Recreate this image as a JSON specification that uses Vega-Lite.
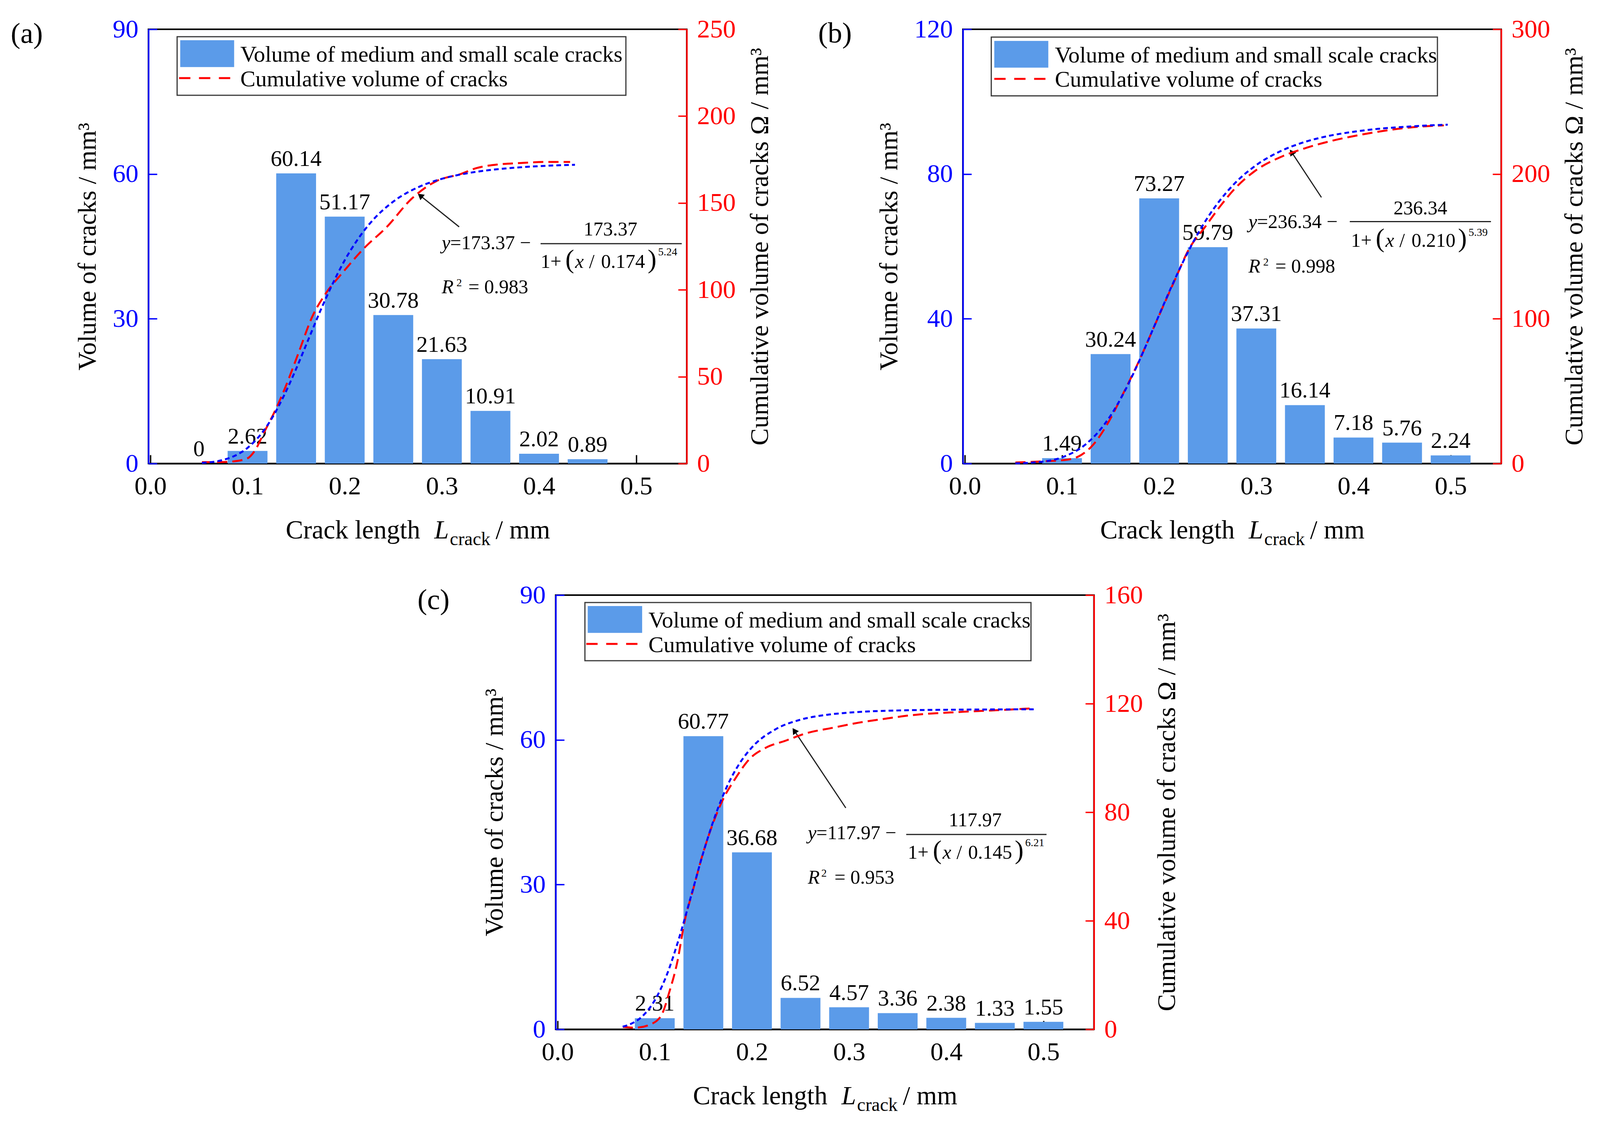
{
  "$schema": "https://vega.github.io/schema/vega-lite/v6.json",
  "background": "white",
  "padding": {"left": 25, "top": 40, "right": 0, "bottom": 0},
  "config": {
    "font": "Liberation Serif",
    "view": {"stroke": "#000000", "strokeWidth": 4},
    "axis": {
      "labelFontSize": 66, "titleFontSize": 66, "titleFontWeight": "normal",
      "labelColor": "#000000", "titleColor": "#000000", "domainColor": "#000000", "tickColor": "#000000",
      "tickSize": -22, "tickWidth": 3.5, "domainWidth": 4, "grid": false,
      "labelPadding": 48, "labelFlush": false, "labelOverlap": false, "zindex": 1
    }
  },
  "datasets": {
    "barsA": [
      {"x": 0.05, "y": 0, "t": "0"}, {"x": 0.1, "y": 2.62, "t": "2.62"}, {"x": 0.15, "y": 60.14, "t": "60.14"},
      {"x": 0.2, "y": 51.17, "t": "51.17"}, {"x": 0.25, "y": 30.78, "t": "30.78"}, {"x": 0.3, "y": 21.63, "t": "21.63"},
      {"x": 0.35, "y": 10.91, "t": "10.91"}, {"x": 0.4, "y": 2.02, "t": "2.02"}, {"x": 0.45, "y": 0.89, "t": "0.89"}
    ],
    "barsB": [
      {"x": 0.1, "y": 1.49, "t": "1.49"}, {"x": 0.15, "y": 30.24, "t": "30.24"}, {"x": 0.2, "y": 73.27, "t": "73.27"},
      {"x": 0.25, "y": 59.79, "t": "59.79"}, {"x": 0.3, "y": 37.31, "t": "37.31"}, {"x": 0.35, "y": 16.14, "t": "16.14"},
      {"x": 0.4, "y": 7.18, "t": "7.18"}, {"x": 0.45, "y": 5.76, "t": "5.76"}, {"x": 0.5, "y": 2.24, "t": "2.24"}
    ],
    "barsC": [
      {"x": 0.1, "y": 2.31, "t": "2.31"}, {"x": 0.15, "y": 60.77, "t": "60.77"}, {"x": 0.2, "y": 36.68, "t": "36.68"},
      {"x": 0.25, "y": 6.52, "t": "6.52"}, {"x": 0.3, "y": 4.57, "t": "4.57"}, {"x": 0.35, "y": 3.36, "t": "3.36"},
      {"x": 0.4, "y": 2.38, "t": "2.38"}, {"x": 0.45, "y": 1.33, "t": "1.33"}, {"x": 0.5, "y": 1.55, "t": "1.55"}
    ],
    "cumA": [
      {"x": 0.053, "y": 0.8}, {"x": 0.07, "y": 0.8}, {"x": 0.085, "y": 1.2}, {"x": 0.1, "y": 3}, {"x": 0.107, "y": 7},
      {"x": 0.118, "y": 19}, {"x": 0.128, "y": 30}, {"x": 0.139, "y": 44}, {"x": 0.152, "y": 63}, {"x": 0.167, "y": 85},
      {"x": 0.18, "y": 97.5}, {"x": 0.198, "y": 110}, {"x": 0.22, "y": 124}, {"x": 0.243, "y": 136}, {"x": 0.269, "y": 152.5},
      {"x": 0.294, "y": 162.5}, {"x": 0.32, "y": 166.8}, {"x": 0.335, "y": 170}, {"x": 0.355, "y": 172}, {"x": 0.381, "y": 173},
      {"x": 0.406, "y": 173.6}, {"x": 0.432, "y": 173.6}
    ],
    "fitA": [
      {"x": 0.053, "y": 0.34}, {"x": 0.075, "y": 2.1}, {"x": 0.0875, "y": 4.6}, {"x": 0.1, "y": 9.0}, {"x": 0.1125, "y": 16.0},
      {"x": 0.125, "y": 26.0}, {"x": 0.1375, "y": 39.1}, {"x": 0.15, "y": 54.5}, {"x": 0.1625, "y": 71.3}, {"x": 0.175, "y": 88.0},
      {"x": 0.1875, "y": 103.4}, {"x": 0.2, "y": 117.0}, {"x": 0.2125, "y": 128.3}, {"x": 0.225, "y": 137.6}, {"x": 0.25, "y": 150.8},
      {"x": 0.275, "y": 158.9}, {"x": 0.3, "y": 163.9}, {"x": 0.325, "y": 167.0}, {"x": 0.35, "y": 169.0}, {"x": 0.375, "y": 170.3},
      {"x": 0.4, "y": 171.2}, {"x": 0.425, "y": 171.8}, {"x": 0.437, "y": 172.0}
    ],
    "cumB": [
      {"x": 0.052, "y": 0.7}, {"x": 0.08, "y": 1.5}, {"x": 0.106, "y": 2.7}, {"x": 0.119, "y": 5.6}, {"x": 0.132, "y": 12.9},
      {"x": 0.148, "y": 28.8}, {"x": 0.163, "y": 48.4}, {"x": 0.179, "y": 70.4}, {"x": 0.195, "y": 94.8}, {"x": 0.216, "y": 126.6},
      {"x": 0.231, "y": 148.5}, {"x": 0.247, "y": 163.2}, {"x": 0.263, "y": 177.9}, {"x": 0.278, "y": 190}, {"x": 0.299, "y": 202.3},
      {"x": 0.326, "y": 212}, {"x": 0.352, "y": 218.2}, {"x": 0.378, "y": 223}, {"x": 0.404, "y": 226.7}, {"x": 0.43, "y": 229.7},
      {"x": 0.457, "y": 232.1}, {"x": 0.493, "y": 233.6}
    ],
    "fitB": [
      {"x": 0.052, "y": 0.13}, {"x": 0.075, "y": 0.92}, {"x": 0.1, "y": 4.25}, {"x": 0.125, "y": 13.6}, {"x": 0.1375, "y": 21.9},
      {"x": 0.15, "y": 33.1}, {"x": 0.1625, "y": 47.4}, {"x": 0.175, "y": 64.3}, {"x": 0.1875, "y": 83.2}, {"x": 0.2, "y": 102.7},
      {"x": 0.2125, "y": 121.9}, {"x": 0.225, "y": 139.9}, {"x": 0.2375, "y": 156.0}, {"x": 0.25, "y": 170.0}, {"x": 0.275, "y": 191.6},
      {"x": 0.3, "y": 206.2}, {"x": 0.325, "y": 215.8}, {"x": 0.35, "y": 222.2}, {"x": 0.375, "y": 226.4}, {"x": 0.4, "y": 229.2},
      {"x": 0.425, "y": 231.2}, {"x": 0.45, "y": 232.5}, {"x": 0.475, "y": 233.5}, {"x": 0.497, "y": 234.1}
    ],
    "cumC": [
      {"x": 0.067, "y": 0.9}, {"x": 0.08, "y": 0.6}, {"x": 0.096, "y": 1.9}, {"x": 0.107, "y": 5.3}, {"x": 0.115, "y": 13.8},
      {"x": 0.123, "y": 24.5}, {"x": 0.131, "y": 40.3}, {"x": 0.139, "y": 50.9}, {"x": 0.149, "y": 64.1}, {"x": 0.16, "y": 76},
      {"x": 0.171, "y": 85.3}, {"x": 0.182, "y": 91.9}, {"x": 0.198, "y": 99.8}, {"x": 0.214, "y": 103.7}, {"x": 0.235, "y": 106.4},
      {"x": 0.256, "y": 109.1}, {"x": 0.283, "y": 111.1}, {"x": 0.31, "y": 113}, {"x": 0.336, "y": 114.4}, {"x": 0.363, "y": 115.7},
      {"x": 0.417, "y": 117}, {"x": 0.47, "y": 117.9}, {"x": 0.489, "y": 118.3}
    ],
    "fitC": [
      {"x": 0.067, "y": 0.97}, {"x": 0.075, "y": 1.93}, {"x": 0.0875, "y": 4.9}, {"x": 0.1, "y": 10.7}, {"x": 0.1125, "y": 20.2},
      {"x": 0.125, "y": 33.6}, {"x": 0.1375, "y": 49.3}, {"x": 0.15, "y": 65.2}, {"x": 0.1625, "y": 79.0}, {"x": 0.175, "y": 90.0},
      {"x": 0.1875, "y": 98.1}, {"x": 0.2, "y": 103.9}, {"x": 0.225, "y": 110.7}, {"x": 0.25, "y": 114.1}, {"x": 0.275, "y": 115.8},
      {"x": 0.3, "y": 116.7}, {"x": 0.35, "y": 117.5}, {"x": 0.4, "y": 117.75}, {"x": 0.45, "y": 117.87}, {"x": 0.49, "y": 117.92}
    ],
    "annA": [
      {"kind": "panel", "x": -0.1437, "y": 87.2, "t": "(a)"},
      {"kind": "box", "x": 0.0275, "x2": 0.4894, "y": 88.47, "y2": 76.33},
      {"kind": "swatch", "x": 0.0307, "x2": 0.0862, "y": 87.74, "y2": 82.16},
      {"kind": "dash", "x": 0.0295, "x2": 0.083, "y": 79.89, "y2": 79.89},
      {"kind": "leg", "x": 0.0926, "y": 83.29, "t": "Volume of medium and small scale cracks"},
      {"kind": "leg", "x": 0.0926, "y": 78.19, "t": "Cumulative volume of cracks"},
      {"kind": "eqi", "x": 0.2998, "y": 44.44, "t": "y"},
      {"kind": "eq", "x": 0.3086, "y": 44.44, "t": "=173.37 −"},
      {"kind": "eqc", "x": 0.4735, "y": 47.27, "t": "173.37"},
      {"kind": "line", "x": 0.4016, "x2": 0.5469, "y": 45.57, "y2": 45.57},
      {"kind": "eq", "x": 0.4016, "y": 40.55, "t": "1+"},
      {"kind": "par", "x": 0.4271, "y": 40.55, "t": "("},
      {"kind": "eqi", "x": 0.4371, "y": 40.55, "t": "x"},
      {"kind": "eq", "x": 0.4515, "y": 40.55, "t": "/"},
      {"kind": "eq", "x": 0.4639, "y": 40.55, "t": "0.174"},
      {"kind": "par", "x": 0.5118, "y": 40.55, "t": ")"},
      {"kind": "sup", "x": 0.5226, "y": 43.14, "t": "5.24"},
      {"kind": "eqi", "x": 0.2998, "y": 35.29, "t": "R"},
      {"kind": "sup", "x": 0.315, "y": 36.75, "t": "2"},
      {"kind": "eq", "x": 0.3273, "y": 35.29, "t": "= 0.983"},
      {"kind": "line", "x": 0.3178, "x2": 0.2777, "y": 49.05, "y2": 55.53},
      {"kind": "head", "x": 0.2777, "y": 55.53},
      {"kind": "xt", "x": 0.1393, "y": -15.54, "t": "Crack length"},
      {"kind": "xti", "x": 0.2922, "y": -15.54, "t": "L"},
      {"kind": "xts", "x": 0.3082, "y": -16.92, "t": "crack"},
      {"kind": "xt", "x": 0.3553, "y": -15.54, "t": "/ mm"}
    ],
    "annB": [
      {"kind": "panel", "x": -0.151, "y": 116.3, "t": "(b)"},
      {"kind": "box", "x": 0.0272, "x2": 0.4864, "y": 117.85, "y2": 101.6},
      {"kind": "swatch", "x": 0.0303, "x2": 0.0859, "y": 116.8, "y2": 109.4},
      {"kind": "dash", "x": 0.0303, "x2": 0.0839, "y": 106.3, "y2": 106.3},
      {"kind": "leg", "x": 0.0927, "y": 110.8, "t": "Volume of medium and small scale cracks"},
      {"kind": "leg", "x": 0.0927, "y": 104.1, "t": "Cumulative volume of cracks"},
      {"kind": "eqi", "x": 0.2919, "y": 65.11, "t": "y"},
      {"kind": "eq", "x": 0.3007, "y": 65.11, "t": "=236.34 −"},
      {"kind": "eqc", "x": 0.4689, "y": 68.89, "t": "236.34"},
      {"kind": "line", "x": 0.3962, "x2": 0.5415, "y": 66.85, "y2": 66.85},
      {"kind": "eq", "x": 0.3974, "y": 59.94, "t": "1+"},
      {"kind": "par", "x": 0.4229, "y": 59.94, "t": "("},
      {"kind": "eqi", "x": 0.4329, "y": 59.94, "t": "x"},
      {"kind": "eq", "x": 0.4473, "y": 59.94, "t": "/"},
      {"kind": "eq", "x": 0.4597, "y": 59.94, "t": "0.210"},
      {"kind": "par", "x": 0.5076, "y": 59.94, "t": ")"},
      {"kind": "sup", "x": 0.5184, "y": 62.91, "t": "5.39"},
      {"kind": "eqi", "x": 0.2919, "y": 52.82, "t": "R"},
      {"kind": "sup", "x": 0.3071, "y": 54.76, "t": "2"},
      {"kind": "eq", "x": 0.3195, "y": 52.82, "t": "= 0.998"},
      {"kind": "line", "x": 0.367, "x2": 0.3363, "y": 73.54, "y2": 86.04},
      {"kind": "head", "x": 0.3363, "y": 86.04},
      {"kind": "xt", "x": 0.1393, "y": -20.72, "t": "Crack length"},
      {"kind": "xti", "x": 0.2922, "y": -20.72, "t": "L"},
      {"kind": "xts", "x": 0.3082, "y": -22.55, "t": "crack"},
      {"kind": "xt", "x": 0.3553, "y": -20.72, "t": "/ mm"}
    ],
    "annC": [
      {"kind": "panel", "x": -0.1442, "y": 87.1, "t": "(c)"},
      {"kind": "box", "x": 0.0281, "x2": 0.4872, "y": 88.46, "y2": 76.4},
      {"kind": "swatch", "x": 0.031, "x2": 0.087, "y": 87.74, "y2": 82.16},
      {"kind": "dash", "x": 0.0295, "x2": 0.085, "y": 79.89, "y2": 79.89},
      {"kind": "leg", "x": 0.0935, "y": 83.29, "t": "Volume of medium and small scale cracks"},
      {"kind": "leg", "x": 0.0935, "y": 78.19, "t": "Cumulative volume of cracks"},
      {"kind": "eqi", "x": 0.2575, "y": 39.41, "t": "y"},
      {"kind": "eq", "x": 0.2663, "y": 39.41, "t": "=117.97 −"},
      {"kind": "eqc", "x": 0.4298, "y": 42.08, "t": "117.97"},
      {"kind": "line", "x": 0.3588, "x2": 0.5032, "y": 40.38, "y2": 40.38},
      {"kind": "eq", "x": 0.3604, "y": 35.33, "t": "1+"},
      {"kind": "par", "x": 0.3862, "y": 35.33, "t": "("},
      {"kind": "eqi", "x": 0.3962, "y": 35.33, "t": "x"},
      {"kind": "eq", "x": 0.4106, "y": 35.33, "t": "/"},
      {"kind": "eq", "x": 0.4226, "y": 35.33, "t": "0.145"},
      {"kind": "par", "x": 0.4705, "y": 35.33, "t": ")"},
      {"kind": "sup", "x": 0.4813, "y": 37.96, "t": "6.21"},
      {"kind": "eqi", "x": 0.2575, "y": 30.19, "t": "R"},
      {"kind": "sup", "x": 0.2714, "y": 31.64, "t": "2"},
      {"kind": "eq", "x": 0.285, "y": 30.19, "t": "= 0.953"},
      {"kind": "line", "x": 0.2966, "x2": 0.2436, "y": 45.89, "y2": 61.91},
      {"kind": "head", "x": 0.2436, "y": 61.91},
      {"kind": "xt", "x": 0.1393, "y": -15.54, "t": "Crack length"},
      {"kind": "xti", "x": 0.2922, "y": -15.54, "t": "L"},
      {"kind": "xts", "x": 0.3082, "y": -16.92, "t": "crack"},
      {"kind": "xt", "x": 0.3553, "y": -15.54, "t": "/ mm"}
    ]
  },
  "vconcat": [
    {
      "hconcat": [
        {
          "width": 1378, "height": 1112,
          "encoding": {
            "x": {"field": "x", "type": "quantitative", "scale": {"domain": [0, 0.55], "nice": false, "zero": false},
                  "axis": {"values": [0, 0.1, 0.2, 0.3, 0.4, 0.5], "format": ".1f", "title": null}}
          },
          "layer": [
            {
              "encoding": {
                "y": {"field": "y", "type": "quantitative", "scale": {"domain": [0, 90], "nice": false},
                      "axis": {"values": [0, 30, 60, 90], "title": "Volume of cracks / mm³", "domainColor": "#0000FF", "tickColor": "#0000FF", "labelColor": "#0000FF", "titlePadding": 30}}
              },
              "layer": [
                {"data": {"name": "barsA"}, "mark": {"type": "bar", "width": 102, "color": "#5B9BE9"}},
                {"data": {"name": "barsA"}, "mark": {"type": "text", "dy": -19, "baseline": "alphabetic", "fontSize": 58}, "encoding": {"text": {"field": "t"}}},
                {"data": {"name": "annA"}, "transform": [{"filter": "datum.kind === 'box'"}], "mark": {"type": "rect", "fill": "#ffffff", "fillOpacity": 0, "stroke": "#3a3a3a", "strokeWidth": 3}, "encoding": {"x2": {"field": "x2"}, "y2": {"field": "y2"}}},
                {"data": {"name": "annA"}, "transform": [{"filter": "datum.kind === 'swatch'"}], "mark": {"type": "rect", "fill": "#5B9BE9"}, "encoding": {"x2": {"field": "x2"}, "y2": {"field": "y2"}}},
                {"data": {"name": "annA"}, "transform": [{"filter": "datum.kind === 'dash'"}], "mark": {"type": "rule", "color": "#FF0000", "strokeWidth": 5, "strokeDash": [29, 22]}, "encoding": {"x2": {"field": "x2"}}},
                {"data": {"name": "annA"}, "transform": [{"filter": "datum.kind === 'leg'"}], "mark": {"type": "text", "align": "left", "baseline": "alphabetic", "fontSize": 58}, "encoding": {"text": {"field": "t"}}},
                {"data": {"name": "annA"}, "transform": [{"filter": "datum.kind === 'eq'"}], "mark": {"type": "text", "align": "left", "baseline": "alphabetic", "fontSize": 50}, "encoding": {"text": {"field": "t"}}},
                {"data": {"name": "annA"}, "transform": [{"filter": "datum.kind === 'eqi'"}], "mark": {"type": "text", "align": "left", "baseline": "alphabetic", "fontSize": 50, "fontStyle": "italic"}, "encoding": {"text": {"field": "t"}}},
                {"data": {"name": "annA"}, "transform": [{"filter": "datum.kind === 'eqc'"}], "mark": {"type": "text", "align": "center", "baseline": "alphabetic", "fontSize": 50}, "encoding": {"text": {"field": "t"}}},
                {"data": {"name": "annA"}, "transform": [{"filter": "datum.kind === 'par'"}], "mark": {"type": "text", "align": "left", "baseline": "alphabetic", "fontSize": 68}, "encoding": {"text": {"field": "t"}}},
                {"data": {"name": "annA"}, "transform": [{"filter": "datum.kind === 'sup'"}], "mark": {"type": "text", "align": "left", "baseline": "alphabetic", "fontSize": 28}, "encoding": {"text": {"field": "t"}}},
                {"data": {"name": "annA"}, "transform": [{"filter": "datum.kind === 'line'"}], "mark": {"type": "rule", "color": "#222222", "strokeWidth": 3}, "encoding": {"x2": {"field": "x2"}, "y2": {"field": "y2"}}},
                {"data": {"name": "annA"}, "transform": [{"filter": "datum.kind === 'head'"}], "mark": {"type": "point", "shape": "triangle-up", "filled": true, "color": "#000000", "opacity": 1, "size": 320, "angle": 309}},
                {"data": {"name": "annA"}, "transform": [{"filter": "datum.kind === 'panel'"}], "mark": {"type": "text", "align": "left", "baseline": "alphabetic", "fontSize": 74}, "encoding": {"text": {"field": "t"}}},
                {"data": {"name": "annA"}, "transform": [{"filter": "datum.kind === 'xt'"}], "mark": {"type": "text", "align": "left", "baseline": "alphabetic", "fontSize": 67}, "encoding": {"text": {"field": "t"}}},
                {"data": {"name": "annA"}, "transform": [{"filter": "datum.kind === 'xti'"}], "mark": {"type": "text", "align": "left", "baseline": "alphabetic", "fontSize": 67, "fontStyle": "italic"}, "encoding": {"text": {"field": "t"}}},
                {"data": {"name": "annA"}, "transform": [{"filter": "datum.kind === 'xts'"}], "mark": {"type": "text", "align": "left", "baseline": "alphabetic", "fontSize": 48}, "encoding": {"text": {"field": "t"}}}
              ]
            },
            {
              "encoding": {
                "y": {"field": "y", "type": "quantitative", "scale": {"domain": [0, 250], "nice": false},
                      "axis": {"orient": "right", "values": [0, 50, 100, 150, 200, 250], "title": "Cumulative volume of cracks Ω / mm³", "titleAngle": 270, "titleBaseline": "top", "titlePadding": 30, "domainColor": "#FF0000", "tickColor": "#FF0000", "labelColor": "#FF0000"}}
              },
              "layer": [
                {"data": {"name": "cumA"}, "mark": {"type": "line", "color": "#FF0000", "strokeWidth": 5, "strokeDash": [26, 13], "interpolate": "monotone"}},
                {"data": {"name": "fitA"}, "mark": {"type": "line", "color": "#0000FF", "strokeWidth": 5, "strokeDash": [12, 8], "interpolate": "monotone"}}
              ]
            }
          ],
          "resolve": {"scale": {"y": "independent"}}
        },
        {
          "width": 1378, "height": 1112,
          "encoding": {
            "x": {"field": "x", "type": "quantitative", "scale": {"domain": [0, 0.55], "nice": false, "zero": false},
                  "axis": {"values": [0, 0.1, 0.2, 0.3, 0.4, 0.5], "format": ".1f", "title": null}}
          },
          "layer": [
            {
              "encoding": {
                "y": {"field": "y", "type": "quantitative", "scale": {"domain": [0, 120], "nice": false},
                      "axis": {"values": [0, 40, 80, 120], "title": "Volume of cracks / mm³", "domainColor": "#0000FF", "tickColor": "#0000FF", "labelColor": "#0000FF", "titlePadding": 30}}
              },
              "layer": [
                {"data": {"name": "barsB"}, "mark": {"type": "bar", "width": 102, "color": "#5B9BE9"}},
                {"data": {"name": "barsB"}, "mark": {"type": "text", "dy": -19, "baseline": "alphabetic", "fontSize": 58}, "encoding": {"text": {"field": "t"}}},
                {"data": {"name": "annB"}, "transform": [{"filter": "datum.kind === 'box'"}], "mark": {"type": "rect", "fill": "#ffffff", "fillOpacity": 0, "stroke": "#3a3a3a", "strokeWidth": 3}, "encoding": {"x2": {"field": "x2"}, "y2": {"field": "y2"}}},
                {"data": {"name": "annB"}, "transform": [{"filter": "datum.kind === 'swatch'"}], "mark": {"type": "rect", "fill": "#5B9BE9"}, "encoding": {"x2": {"field": "x2"}, "y2": {"field": "y2"}}},
                {"data": {"name": "annB"}, "transform": [{"filter": "datum.kind === 'dash'"}], "mark": {"type": "rule", "color": "#FF0000", "strokeWidth": 5, "strokeDash": [29, 22]}, "encoding": {"x2": {"field": "x2"}}},
                {"data": {"name": "annB"}, "transform": [{"filter": "datum.kind === 'leg'"}], "mark": {"type": "text", "align": "left", "baseline": "alphabetic", "fontSize": 58}, "encoding": {"text": {"field": "t"}}},
                {"data": {"name": "annB"}, "transform": [{"filter": "datum.kind === 'eq'"}], "mark": {"type": "text", "align": "left", "baseline": "alphabetic", "fontSize": 50}, "encoding": {"text": {"field": "t"}}},
                {"data": {"name": "annB"}, "transform": [{"filter": "datum.kind === 'eqi'"}], "mark": {"type": "text", "align": "left", "baseline": "alphabetic", "fontSize": 50, "fontStyle": "italic"}, "encoding": {"text": {"field": "t"}}},
                {"data": {"name": "annB"}, "transform": [{"filter": "datum.kind === 'eqc'"}], "mark": {"type": "text", "align": "center", "baseline": "alphabetic", "fontSize": 50}, "encoding": {"text": {"field": "t"}}},
                {"data": {"name": "annB"}, "transform": [{"filter": "datum.kind === 'par'"}], "mark": {"type": "text", "align": "left", "baseline": "alphabetic", "fontSize": 68}, "encoding": {"text": {"field": "t"}}},
                {"data": {"name": "annB"}, "transform": [{"filter": "datum.kind === 'sup'"}], "mark": {"type": "text", "align": "left", "baseline": "alphabetic", "fontSize": 28}, "encoding": {"text": {"field": "t"}}},
                {"data": {"name": "annB"}, "transform": [{"filter": "datum.kind === 'line'"}], "mark": {"type": "rule", "color": "#222222", "strokeWidth": 3}, "encoding": {"x2": {"field": "x2"}, "y2": {"field": "y2"}}},
                {"data": {"name": "annB"}, "transform": [{"filter": "datum.kind === 'head'"}], "mark": {"type": "point", "shape": "triangle-up", "filled": true, "color": "#000000", "opacity": 1, "size": 320, "angle": 326}},
                {"data": {"name": "annB"}, "transform": [{"filter": "datum.kind === 'panel'"}], "mark": {"type": "text", "align": "left", "baseline": "alphabetic", "fontSize": 74}, "encoding": {"text": {"field": "t"}}},
                {"data": {"name": "annB"}, "transform": [{"filter": "datum.kind === 'xt'"}], "mark": {"type": "text", "align": "left", "baseline": "alphabetic", "fontSize": 67}, "encoding": {"text": {"field": "t"}}},
                {"data": {"name": "annB"}, "transform": [{"filter": "datum.kind === 'xti'"}], "mark": {"type": "text", "align": "left", "baseline": "alphabetic", "fontSize": 67, "fontStyle": "italic"}, "encoding": {"text": {"field": "t"}}},
                {"data": {"name": "annB"}, "transform": [{"filter": "datum.kind === 'xts'"}], "mark": {"type": "text", "align": "left", "baseline": "alphabetic", "fontSize": 48}, "encoding": {"text": {"field": "t"}}}
              ]
            },
            {
              "encoding": {
                "y": {"field": "y", "type": "quantitative", "scale": {"domain": [0, 300], "nice": false},
                      "axis": {"orient": "right", "values": [0, 100, 200, 300], "title": "Cumulative volume of cracks Ω / mm³", "titleAngle": 270, "titleBaseline": "top", "titlePadding": 30, "domainColor": "#FF0000", "tickColor": "#FF0000", "labelColor": "#FF0000"}}
              },
              "layer": [
                {"data": {"name": "cumB"}, "mark": {"type": "line", "color": "#FF0000", "strokeWidth": 5, "strokeDash": [26, 13], "interpolate": "monotone"}},
                {"data": {"name": "fitB"}, "mark": {"type": "line", "color": "#0000FF", "strokeWidth": 5, "strokeDash": [12, 8], "interpolate": "monotone"}}
              ]
            }
          ],
          "resolve": {"scale": {"y": "independent"}}
        }
      ],
      "spacing": 112
    },
    {
      "width": 1378, "height": 1112,
      "encoding": {
        "x": {"field": "x", "type": "quantitative", "scale": {"domain": [0, 0.55], "nice": false, "zero": false},
              "axis": {"values": [0, 0.1, 0.2, 0.3, 0.4, 0.5], "format": ".1f", "title": null}}
      },
      "layer": [
        {
          "encoding": {
            "y": {"field": "y", "type": "quantitative", "scale": {"domain": [0, 90], "nice": false},
                  "axis": {"values": [0, 30, 60, 90], "title": "Volume of cracks / mm³", "domainColor": "#0000FF", "tickColor": "#0000FF", "labelColor": "#0000FF", "titlePadding": 30}}
          },
          "layer": [
            {"data": {"name": "barsC"}, "mark": {"type": "bar", "width": 102, "color": "#5B9BE9"}},
            {"data": {"name": "barsC"}, "mark": {"type": "text", "dy": -19, "baseline": "alphabetic", "fontSize": 58}, "encoding": {"text": {"field": "t"}}},
            {"data": {"name": "annC"}, "transform": [{"filter": "datum.kind === 'box'"}], "mark": {"type": "rect", "fill": "#ffffff", "fillOpacity": 0, "stroke": "#3a3a3a", "strokeWidth": 3}, "encoding": {"x2": {"field": "x2"}, "y2": {"field": "y2"}}},
            {"data": {"name": "annC"}, "transform": [{"filter": "datum.kind === 'swatch'"}], "mark": {"type": "rect", "fill": "#5B9BE9"}, "encoding": {"x2": {"field": "x2"}, "y2": {"field": "y2"}}},
            {"data": {"name": "annC"}, "transform": [{"filter": "datum.kind === 'dash'"}], "mark": {"type": "rule", "color": "#FF0000", "strokeWidth": 5, "strokeDash": [29, 22]}, "encoding": {"x2": {"field": "x2"}}},
            {"data": {"name": "annC"}, "transform": [{"filter": "datum.kind === 'leg'"}], "mark": {"type": "text", "align": "left", "baseline": "alphabetic", "fontSize": 58}, "encoding": {"text": {"field": "t"}}},
            {"data": {"name": "annC"}, "transform": [{"filter": "datum.kind === 'eq'"}], "mark": {"type": "text", "align": "left", "baseline": "alphabetic", "fontSize": 50}, "encoding": {"text": {"field": "t"}}},
            {"data": {"name": "annC"}, "transform": [{"filter": "datum.kind === 'eqi'"}], "mark": {"type": "text", "align": "left", "baseline": "alphabetic", "fontSize": 50, "fontStyle": "italic"}, "encoding": {"text": {"field": "t"}}},
            {"data": {"name": "annC"}, "transform": [{"filter": "datum.kind === 'eqc'"}], "mark": {"type": "text", "align": "center", "baseline": "alphabetic", "fontSize": 50}, "encoding": {"text": {"field": "t"}}},
            {"data": {"name": "annC"}, "transform": [{"filter": "datum.kind === 'par'"}], "mark": {"type": "text", "align": "left", "baseline": "alphabetic", "fontSize": 68}, "encoding": {"text": {"field": "t"}}},
            {"data": {"name": "annC"}, "transform": [{"filter": "datum.kind === 'sup'"}], "mark": {"type": "text", "align": "left", "baseline": "alphabetic", "fontSize": 28}, "encoding": {"text": {"field": "t"}}},
            {"data": {"name": "annC"}, "transform": [{"filter": "datum.kind === 'line'"}], "mark": {"type": "rule", "color": "#222222", "strokeWidth": 3}, "encoding": {"x2": {"field": "x2"}, "y2": {"field": "y2"}}},
            {"data": {"name": "annC"}, "transform": [{"filter": "datum.kind === 'head'"}], "mark": {"type": "point", "shape": "triangle-up", "filled": true, "color": "#000000", "opacity": 1, "size": 320, "angle": 326}},
            {"data": {"name": "annC"}, "transform": [{"filter": "datum.kind === 'panel'"}], "mark": {"type": "text", "align": "left", "baseline": "alphabetic", "fontSize": 74}, "encoding": {"text": {"field": "t"}}},
            {"data": {"name": "annC"}, "transform": [{"filter": "datum.kind === 'xt'"}], "mark": {"type": "text", "align": "left", "baseline": "alphabetic", "fontSize": 67}, "encoding": {"text": {"field": "t"}}},
            {"data": {"name": "annC"}, "transform": [{"filter": "datum.kind === 'xti'"}], "mark": {"type": "text", "align": "left", "baseline": "alphabetic", "fontSize": 67, "fontStyle": "italic"}, "encoding": {"text": {"field": "t"}}},
            {"data": {"name": "annC"}, "transform": [{"filter": "datum.kind === 'xts'"}], "mark": {"type": "text", "align": "left", "baseline": "alphabetic", "fontSize": 48}, "encoding": {"text": {"field": "t"}}}
          ]
        },
        {
          "encoding": {
            "y": {"field": "y", "type": "quantitative", "scale": {"domain": [0, 160], "nice": false},
                  "axis": {"orient": "right", "values": [0, 40, 80, 120, 160], "title": "Cumulative volume of cracks Ω / mm³", "titleAngle": 270, "titleBaseline": "top", "titlePadding": 30, "domainColor": "#FF0000", "tickColor": "#FF0000", "labelColor": "#FF0000"}}
          },
          "layer": [
            {"data": {"name": "cumC"}, "mark": {"type": "line", "color": "#FF0000", "strokeWidth": 5, "strokeDash": [26, 13], "interpolate": "monotone"}},
            {"data": {"name": "fitC"}, "mark": {"type": "line", "color": "#0000FF", "strokeWidth": 5, "strokeDash": [12, 8], "interpolate": "monotone"}}
          ]
        }
      ],
      "resolve": {"scale": {"y": "independent"}}
    }
  ],
  "spacing": 80,
  "center": true
}
